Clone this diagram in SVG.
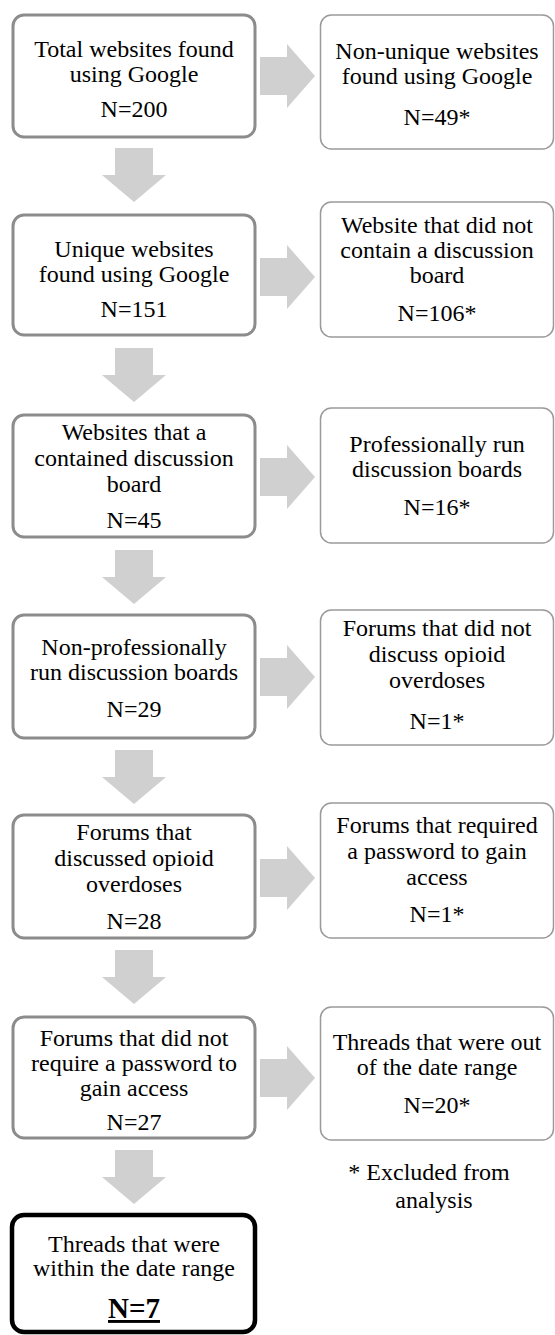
<svg xmlns="http://www.w3.org/2000/svg" xmlns:xlink="http://www.w3.org/1999/xlink" width="555" height="1335" viewBox="0 0 555 1335">
<style>
text{font-family:'Liberation Serif','DejaVu Serif',serif}
.t{font-size:24px;fill:#000;text-anchor:middle}
.lb{fill:#fff;stroke:#8c8c8c;stroke-width:3}
.rb{fill:#fff;stroke:#9a9a9a;stroke-width:1.5}
.fb{fill:#fff;stroke:#000;stroke-width:4.5}
.ar{fill:#d0d0d0}
.bold{font-weight:bold;font-size:29px;text-decoration:underline}
</style>
<defs>
<path id="ra" d="M0,-19 H27 V-32 L55,0 L27,32 V19 H0 Z"/>
<path id="da" d="M-19,0 H19 V27 H32 L0,54 L-32,27 H-19 Z"/>
</defs>
<rect width="555" height="1335" fill="#fff"/>
<g id="connectors" class="ar">
<use xlink:href="#ra" x="260" y="76"/>
<use xlink:href="#ra" x="260" y="277"/>
<use xlink:href="#ra" x="260" y="477"/>
<use xlink:href="#ra" x="260" y="677"/>
<use xlink:href="#ra" x="260" y="878"/>
<use xlink:href="#ra" x="260" y="1078"/>
<use xlink:href="#da" x="134" y="148"/>
<use xlink:href="#da" x="134" y="348"/>
<use xlink:href="#da" x="134" y="550"/>
<use xlink:href="#da" x="134" y="750"/>
<use xlink:href="#da" x="134" y="950"/>
<use xlink:href="#da" x="134" y="1150"/>
</g>
<g font-family="Liberation Serif, serif">
<g id="n1"><rect class="lb" x="13" y="15" width="242" height="122" rx="11"/>
<text class="t" x="134" y="57">Total websites found</text><text class="t" x="134" y="82">using Google</text><text class="t" x="134" y="117">N=200</text></g>
<g id="n2"><rect class="lb" x="13" y="215" width="242" height="120" rx="11"/>
<text class="t" x="134" y="257">Unique websites</text><text class="t" x="134" y="282">found using Google</text><text class="t" x="134" y="317">N=151</text></g>
<g id="n3"><rect class="lb" x="13" y="415" width="242" height="122" rx="11"/>
<text class="t" x="134" y="440">Websites that a</text><text class="t" x="134" y="466">contained discussion</text><text class="t" x="134" y="492">board</text><text class="t" x="134" y="528">N=45</text></g>
<g id="n4"><rect class="lb" x="13" y="615" width="242" height="123" rx="11"/>
<text class="t" x="134" y="655">Non-professionally</text><text class="t" x="134" y="680">run discussion boards</text><text class="t" x="134" y="717">N=29</text></g>
<g id="n5"><rect class="lb" x="13" y="815" width="242" height="123" rx="11"/>
<text class="t" x="134" y="840">Forums that</text><text class="t" x="134" y="866">discussed opioid</text><text class="t" x="134" y="892">overdoses</text><text class="t" x="134" y="929">N=28</text></g>
<g id="n6"><rect class="lb" x="13" y="1017" width="242" height="121" rx="11"/>
<text class="t" x="134" y="1046">Forums that did not</text><text class="t" x="134" y="1071">require a password to</text><text class="t" x="134" y="1096">gain access</text><text class="t" x="134" y="1130">N=27</text></g>
<g id="n7"><rect class="fb" x="12" y="1215" width="243" height="117" rx="12"/>
<text class="t" x="134" y="1252">Threads that were</text><text class="t" x="134" y="1276">within the date range</text><text class="t bold" x="134" y="1318">N=7</text></g>
<g id="r1"><rect class="rb" x="320.5" y="15" width="233" height="134" rx="11"/>
<text class="t" x="437" y="59">Non-unique websites</text><text class="t" x="437" y="84">found using Google</text><text class="t" x="437" y="125">N=49*</text></g>
<g id="r2"><rect class="rb" x="320.5" y="202" width="233" height="135" rx="11"/>
<text class="t" x="437" y="233">Website that did not</text><text class="t" x="437" y="258">contain a discussion</text><text class="t" x="437" y="283">board</text><text class="t" x="437" y="321">N=106*</text></g>
<g id="r3"><rect class="rb" x="320.5" y="408" width="233" height="135" rx="11"/>
<text class="t" x="437" y="452">Professionally run</text><text class="t" x="437" y="477">discussion boards</text><text class="t" x="437" y="515">N=16*</text></g>
<g id="r4"><rect class="rb" x="320.5" y="610" width="233" height="135" rx="11"/>
<text class="t" x="437" y="636">Forums that did not</text><text class="t" x="437" y="662">discuss opioid</text><text class="t" x="437" y="688">overdoses</text><text class="t" x="437" y="729">N=1*</text></g>
<g id="r5"><rect class="rb" x="320.5" y="803" width="233" height="135" rx="11"/>
<text class="t" x="437" y="833">Forums that required</text><text class="t" x="437" y="859">a password to gain</text><text class="t" x="437" y="885">access</text><text class="t" x="437" y="922">N=1*</text></g>
<g id="r6"><rect class="rb" x="320.5" y="1007" width="233" height="133" rx="11"/>
<text class="t" x="437" y="1050">Threads that were out</text><text class="t" x="437" y="1075">of the date range</text><text class="t" x="437" y="1113">N=20*</text></g>
<g id="note"><text class="t" x="429" y="1180">* Excluded from</text><text class="t" x="434" y="1208">analysis</text></g>
</g>
</svg>
